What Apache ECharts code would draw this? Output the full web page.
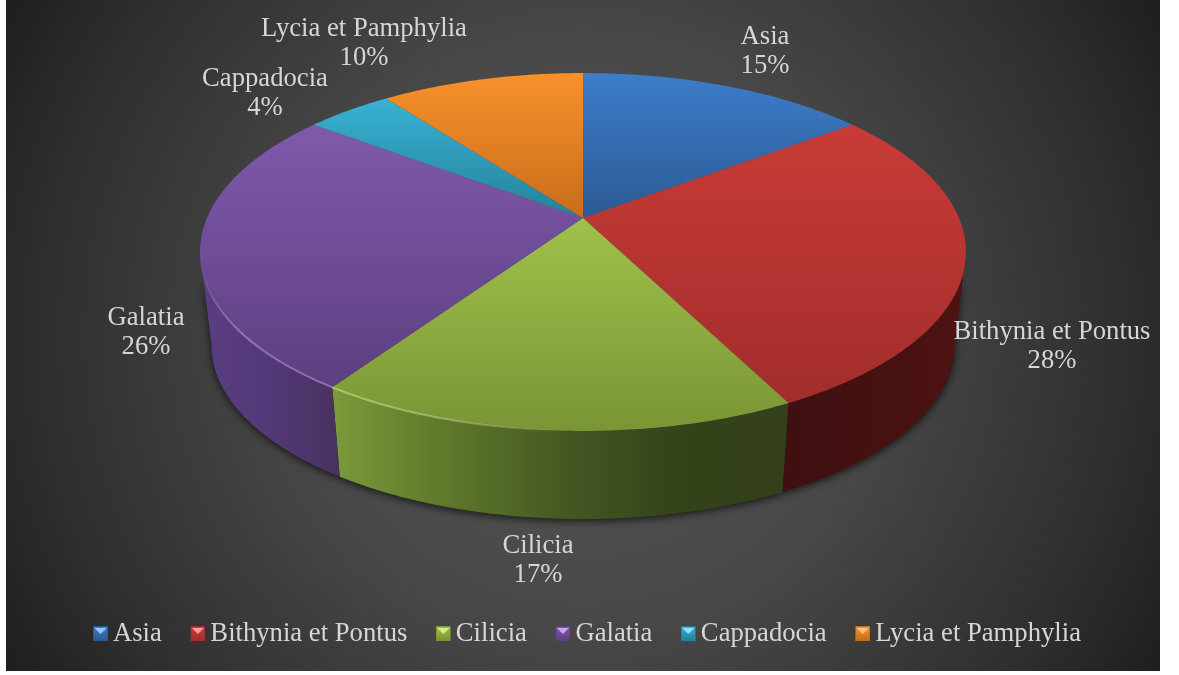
<!DOCTYPE html>
<html><head><meta charset="utf-8">
<style>html,body{margin:0;padding:0;background:#fff}#c{width:1179px;height:675px}</style>
<script src="https://cdn.jsdelivr.net/npm/echarts@6/dist/echarts.min.js"></script>
</head><body><div id="c"></div>
<script>
const categories = ['Asia','Bithynia et Pontus','Cilicia','Galatia','Cappadocia','Lycia et Pamphylia'];
const shares = [14.7, 27.8, 17, 25.8, 4.4, 10.3];
// label centres on the page
const labelCentres = [[765,51],[1052,346],[538,560],[146,332],[265,93],[364,43]];
// styles: top face gradient, side gradient stops, rim highlight, legend swatch
const topLight = ['#3d7dcb','#c83b38','#9fc24a','#8059ac','#38b2d4','#f8912b'];
const topDark  = ['#2b5a93','#a22d2b','#7a9535','#5c3f80','#268199','#c86d1c'];
const sideStops = [
  ['#2b5a93','#2b5a93'],
  ['#3f1010','#451111','#4e1313'],
  ['#7b9a3a','#5f782b','#465922','#35431a','#33401a'],
  ['#5a3e82','#533878','#49315f'],
  ['#268199','#268199'],
  ['#c86d1c','#c86d1c']];
const rimColor = ['#5b94dc','#d65552','#b4d566','#9a78c4','#5cc6e2','#fba850'];
const rimFade = [null,null,[1,0],[0,1],null,null];
const triLight = ['#93c6ff','#ff9d9a','#d3ee80','#c9a5f2','#86e6ff','#ffc27a'];

// projection of the pie disc
const CX = 583, CY = 218, RX = 376, RY = 172.5, K = 0.19;
const DEPTH_CY = 312.5, DEPTH_S = 0.97;
const total = shares.reduce((a,b)=>a+b,0);
const TAU = Math.PI*2;
function rim(t){
  const u = Math.sin(t), v = -Math.cos(t), d = 1 - K*v;
  return [CX + RX*u/d, CY + RY*v/d];
}
function lower(p){ return [CX + (p[0]-CX)*DEPTH_S, DEPTH_CY + (p[1]-CY)*DEPTH_S]; }
function arc(a,b){
  const n = Math.max(2, Math.ceil((b-a)/0.01)), pts=[];
  for(let i=0;i<=n;i++) pts.push(rim(a+(b-a)*i/n));
  return pts;
}
const tMin = Math.acos(-K), tMax = TAU - tMin; // silhouette of the side wall
const starts = []; shares.reduce((acc,s,i)=>(starts[i]=acc, acc+s),0);

function lin(x2,y2,stops){
  return {type:'linear',x:0,y:0,x2:x2,y2:y2,
    colorStops:stops.map((c,i)=>({offset:i/(stops.length-1),color:c}))};
}
function swatch(i){
  const svg = "<svg xmlns='http://www.w3.org/2000/svg' width='15' height='15'>"+
    "<defs><linearGradient id='g' x1='0' y1='0' x2='0' y2='1'><stop offset='0' stop-color='"+topLight[i]+"'/>"+
    "<stop offset='1' stop-color='"+topDark[i]+"'/></linearGradient></defs>"+
    "<rect width='15' height='15' fill='"+topDark[i]+"'/>"+
    "<rect x='1' y='1' width='13' height='13' fill='url(#g)'/>"+
    "<path d='M1.5 2H13.5L7.5 8Z' fill='"+triLight[i]+"'/></svg>";
  return 'image://data:image/svg+xml,'+encodeURIComponent(svg);
}
function fadeStroke(i){
  const f = rimFade[i], c = rimColor[i];
  const stops = f[0]===1 ? [c,'rgba(255,255,255,0)','rgba(255,255,255,0)'] : ['rgba(255,255,255,0)',c,c];
  return lin(1,0,stops);
}
const series = categories.map((name,i)=>({
  type:'custom', name, coordinateSystem:'none', silent:true,
  data:[shares[i]], itemStyle:{color:topLight[i]},
  renderItem:function(){
    const a = starts[i]/total*TAU, b = (starts[i]+shares[i])/total*TAU;
    const kids = [];
    const s = Math.max(a,tMin), e = Math.min(b,tMax);
    if(e>s){
      const front = arc(s,e), low = front.map(lower).reverse();
      const wall = front.concat(low);
      kids.push({type:'polygon',z2:0,shape:{points:wall},
        style:{fill:'#222',shadowBlur:9,shadowColor:'rgba(0,0,0,0.7)',shadowOffsetY:2}});
      kids.push({type:'polygon',z2:1,shape:{points:wall},
        style:{fill:lin(1,0,sideStops[i])}});
      if(rimFade[i]){
        kids.push({type:'polyline',z2:12,shape:{points:front},
          style:{fill:null,stroke:fadeStroke(i),lineWidth:2,opacity:.8}});
      }
    }
    kids.push({type:'polygon',z2:10,shape:{points:[[CX,CY]].concat(arc(a,b))},
      style:{fill:lin(0,1,[topLight[i],topDark[i]])}});
    const pct = Math.round(shares[i]/total*100);
    kids.push({type:'text',z2:20,style:{
      text:name+'\n'+pct+'%', x:labelCentres[i][0], y:labelCentres[i][1],
      textAlign:'center', textVerticalAlign:'middle',
      font:'26.67px "Liberation Serif"', lineHeight:29, fill:'#d6d6d6'}});
    return {type:'group',children:kids};
  }
}));
const chart = echarts.init(document.getElementById('c'),null,{renderer:'canvas'});
chart.setOption({
  animation:false, backgroundColor:'#ffffff',
  graphic:[{type:'rect',z:-10,silent:true,shape:{x:6,y:0,width:1154,height:671},
    style:{fill:{type:'radial',x:.5,y:.5,r:1,colorStops:[
      {offset:0,color:'#575757'},{offset:.45,color:'#474747'},{offset:.8,color:'#2f2f2f'},{offset:1,color:'#1e1e1e'}]}}}],
  legend:{show:true,left:93,top:620,padding:0,orient:'horizontal',itemWidth:15,itemHeight:15,itemGap:28.5,
    selectedMode:false,
    data:categories.map((n,i)=>({name:n,icon:swatch(i)})),
    textStyle:{color:'#d6d6d6',fontFamily:'Liberation Serif',fontSize:26.67}},
  series
});
</script></body></html>
